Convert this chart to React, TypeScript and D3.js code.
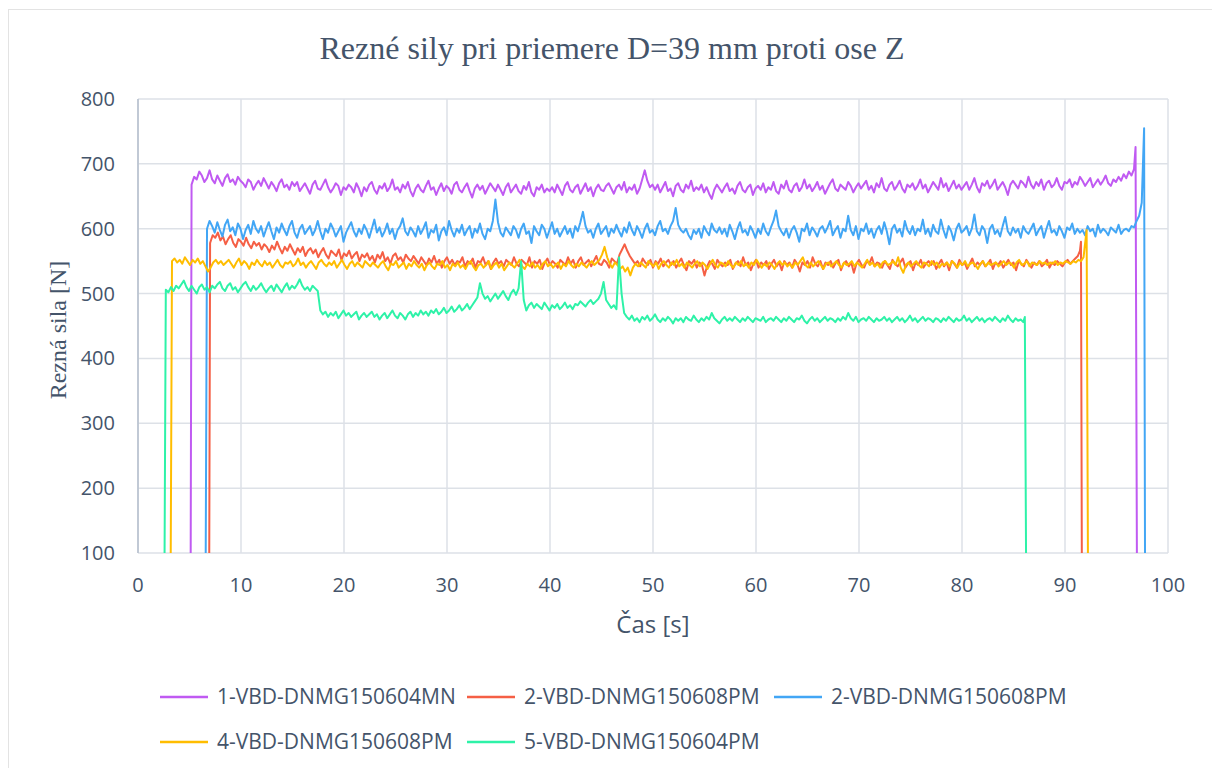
import React from "react";
import * as d3 from "d3";

// Sampling step of the force series, seconds
const STEP = 0.25;

const xTicks = [0, 10, 20, 30, 40, 50, 60, 70, 80, 90, 100];
const yTicks = [100, 200, 300, 400, 500, 600, 700, 800];

// 1-VBD-DNMG150604MN, sampled from t = 5.2 s (one row = 5 s)
const purpleValues = [
  668, 680, 676, 688, 682, 672, 678, 690, 676, 670, 682, 674, 666, 678, 684, 672, 676, 668, 680, 674,
  670, 664, 676, 672, 660, 668, 674, 666, 678, 670, 662, 672, 666, 658, 670, 676, 664, 668, 660, 672,
  666, 672, 658, 664, 670, 662, 654, 668, 674, 662, 660, 668, 676, 664, 656, 662, 670, 666, 652, 664,
  660, 668, 664, 656, 670, 662, 650, 664, 658, 668, 672, 660, 654, 666, 662, 670, 658, 664, 676, 660,
  664, 656, 668, 662, 672, 658, 650, 662, 668, 660, 656, 666, 674, 660, 664, 652, 662, 670, 658, 666,
  662, 654, 668, 672, 660, 656, 664, 670, 658, 648, 662, 668, 660, 666, 654, 662, 670, 664, 658, 668,
  660, 652, 664, 670, 656, 662, 668, 658, 654, 666, 660, 672, 656, 650, 664, 660, 668, 656, 662, 658,
  664, 656, 668, 660, 652, 666, 672, 660, 656, 664, 668, 654, 662, 670, 658, 664, 650, 662, 668, 660,
  658, 666, 670, 662, 654, 664, 668, 660, 672, 656, 664, 660, 668, 654, 662, 676, 690, 674, 664, 668,
  660, 668, 656, 664, 672, 658, 662, 650, 666, 670, 660, 656, 668, 662, 674, 658, 664, 660, 668, 656,
  664, 654, 646, 660, 668, 662, 656, 664, 670, 658, 662, 654, 666, 672, 660, 656, 664, 668, 652, 662,
  666, 660, 670, 656, 664, 660, 672, 658, 654, 668, 662, 674, 660, 656, 666, 670, 658, 664, 676, 662,
  668, 658, 664, 672, 660, 666, 654, 662, 670, 676, 662, 658, 668, 664, 660, 672, 666, 656, 664, 670,
  662, 668, 674, 660, 666, 656, 670, 664, 678, 662, 658, 668, 672, 660, 666, 674, 662, 656, 668, 664,
  670, 660, 666, 676, 662, 668, 656, 664, 672, 666, 660, 678, 664, 670, 658, 666, 674, 662, 668, 660,
  666, 672, 660, 668, 678, 664, 656, 670, 666, 674, 662, 668, 676, 660, 666, 672, 664, 652, 668, 674,
  668, 662, 674, 670, 664, 680, 668, 662, 672, 666, 676, 660, 670, 674, 664, 668, 678, 666, 660, 672,
  670, 676, 664, 672, 668, 680, 674, 666, 672, 678, 664, 670, 676, 668, 674, 682, 670, 666, 676, 672,
  680, 674, 684, 678, 688, 682, 692,
];

// 2-VBD-DNMG150608PM (red), sampled from t = 7.0 s
const redValues = [
  578, 590, 586, 594, 582, 588, 576, 584, 590, 578, 572, 584, 580, 574, 586, 576, 570, 580, 574, 578,
  568, 576, 572, 564, 574, 568, 580, 570, 562, 572, 566, 576, 568, 560, 570, 564, 572, 558, 566, 570,
  562, 568, 556, 564, 570, 560, 554, 566, 562, 558, 568, 552, 562, 558, 566, 554, 560, 564, 550, 560,
  556, 562, 552, 558, 548, 560, 554, 564, 550, 556, 546, 558, 562, 552, 556, 548, 560, 554, 550, 558,
  552, 546, 556, 550, 544, 554, 548, 558, 546, 552, 540, 550, 556, 546, 552, 544, 550, 548, 556, 542,
  550, 546, 554, 540, 550, 548, 556, 544, 550, 538, 548, 554, 546, 550, 542, 552, 548, 544, 556, 546,
  542, 552, 548, 544, 556, 540, 550, 546, 552, 538, 548, 554, 544, 550, 546, 540, 552, 548, 544, 556,
  546, 552, 540, 550, 556, 544, 548, 552, 542, 550, 558, 546, 544, 552, 548, 540, 554, 550, 546, 560,
  568, 576, 566, 558, 552, 546, 550, 542, 554, 548, 544, 552, 540, 550, 546, 554, 542, 548, 552, 544,
  550, 540, 548, 554, 544, 536, 550, 546, 552, 540, 548, 544, 528, 542, 550, 546, 538, 552, 546, 542,
  548, 544, 552, 538, 546, 550, 542, 556, 544, 548, 536, 546, 552, 540, 548, 544, 550, 538, 546, 552,
  542, 548, 536, 550, 544, 548, 540, 552, 546, 534, 548, 544, 550, 540, 556, 546, 542, 550, 538, 548,
  544, 550, 540, 548, 552, 536, 546, 550, 542, 548, 532, 546, 552, 544, 540, 550, 546, 556, 542, 548,
  546, 540, 550, 544, 538, 552, 546, 542, 548, 554, 540, 546, 550, 536, 548, 544, 552, 540, 546, 550,
  544, 550, 538, 546, 552, 542, 548, 536, 550, 546, 540, 552, 544, 548, 538, 546, 554, 542, 548, 544,
  550, 542, 546, 552, 538, 548, 544, 550, 540, 546, 552, 544, 548, 536, 550, 546, 542, 552, 546, 540,
  548, 544, 550, 542, 546, 552, 540, 548, 544, 550, 546, 542, 548, 552, 546, 550, 554, 558,
];

// 2-VBD-DNMG150608PM (blue), sampled from t = 6.7 s
const blueValues = [
  600, 612, 604, 594, 610, 598, 588, 606, 614, 596, 602, 590, 608, 600, 584, 598, 606, 592, 612, 600,
  594, 604, 588, 600, 610, 596, 584, 602, 594, 608, 598, 590, 604, 612, 594, 586, 600, 606, 592, 598,
  604, 590, 598, 612, 596, 584, 600, 594, 608, 600, 588, 596, 604, 580, 594, 602, 610, 596, 588, 600,
  592, 606, 598, 586, 600, 614, 594, 602, 588, 596, 608, 592, 600, 584, 598, 604, 616, 596, 590, 602,
  596, 588, 604, 592, 600, 610, 586, 598, 594, 606, 582, 596, 602, 590, 612, 598, 588, 600, 594, 606,
  590, 598, 604, 586, 600, 594, 608, 592, 584, 600, 596, 612, 645, 610, 594, 588, 602, 596, 590, 604,
  598, 586, 600, 608, 592, 596, 578, 604, 596, 590, 606, 600, 586, 598, 610, 592, 600, 588, 596, 604,
  592, 600, 586, 604, 596, 610, 626, 604, 594, 598, 586, 600, 608, 592, 598, 604, 588, 600, 594, 606,
  596, 588, 602, 594, 610, 598, 590, 604, 596, 586, 600, 608, 594, 598, 590, 604, 612, 596, 600, 592,
  604, 612, 632, 606, 598, 594, 600, 590, 584, 598, 592, 600, 586, 604, 596, 590, 608, 598, 594, 602,
  592, 600, 588, 606, 596, 584, 600, 610, 594, 598, 590, 604, 596, 586, 600, 592, 608, 596, 590, 602,
  612, 628, 604, 596, 590, 600, 586, 598, 604, 594, 580, 600, 596, 608, 590, 602, 596, 588, 600, 604,
  594, 602, 612, 590, 598, 604, 586, 600, 596, 620, 598, 590, 604, 584, 600, 596, 608, 592, 600, 586,
  598, 604, 592, 610, 596, 576, 600, 606, 594, 600, 588, 612, 598, 592, 604, 590, 600, 596, 614, 592,
  600, 588, 606, 596, 592, 614, 598, 586, 604, 596, 582, 600, 608, 594, 598, 604, 590, 600, 622, 596,
  590, 604, 598, 578, 600, 606, 592, 598, 588, 604, 618, 596, 590, 602, 594, 600, 586, 604, 596, 592,
  600, 608, 590, 598, 604, 586, 600, 612, 594, 598, 590, 604, 596, 586, 602, 598, 608, 592, 600, 594,
  598, 590, 604, 596, 600, 588, 606, 594, 600, 596, 590, 602, 598, 594, 606, 592, 598, 600, 596, 604,
  602, 612, 620,
];

// 4-VBD-DNMG150608PM, sampled from t = 3.3 s
const yellowValues = [
  550, 554, 548, 552, 546, 556, 550, 544, 552, 548, 554, 546, 550, 542, 534, 540, 548, 552, 546, 550,
  544, 548, 552, 546, 540, 548, 554, 544, 550, 546, 538, 548, 544, 552, 546, 542, 550, 544, 548, 540,
  546, 552, 544, 540, 548, 546, 550, 542, 546, 554, 544, 548, 540, 546, 550, 544, 538, 548, 552, 546,
  542, 548, 544, 550, 540, 546, 552, 544, 538, 546, 550, 542, 548, 544, 540, 550, 546, 542, 548, 544,
  540, 546, 550, 542, 536, 546, 544, 550, 540, 544, 548, 538, 546, 542, 550, 544, 540, 546, 536, 544,
  548, 542, 538, 546, 544, 550, 540, 544, 536, 546, 542, 548, 540, 544, 538, 546, 550, 542, 536, 544,
  546, 540, 544, 550, 538, 544, 548, 540, 546, 536, 542, 548, 544, 540, 546, 552, 542, 538, 546, 542,
  548, 540, 544, 538, 546, 550, 542, 546, 540, 544, 548, 538, 546, 542, 550, 544, 540, 546, 542, 548,
  544, 540, 546, 550, 544, 548, 552, 560, 572, 556, 546, 540, 548, 544, 538, 542, 534, 540, 528, 540,
  546, 542, 548, 544, 540, 550, 546, 542, 548, 538, 546, 550, 544, 540, 548, 544, 552, 542, 546, 540,
  548, 544, 540, 546, 550, 542, 548, 544, 538, 546, 552, 544, 540, 548, 546, 542, 550, 544, 540, 548,
  544, 550, 542, 546, 540, 548, 544, 552, 546, 540, 546, 542, 548, 544, 538, 546, 550, 544, 548, 542,
  546, 540, 548, 544, 550, 556, 544, 540, 548, 542, 546, 550, 544, 538, 546, 548, 542, 546, 550, 544,
  540, 548, 544, 546, 550, 542, 548, 544, 540, 546, 552, 544, 548, 542, 546, 540, 548, 550, 544, 546,
  550, 544, 556, 540, 532, 544, 548, 542, 546, 550, 544, 540, 548, 546, 542, 550, 544, 548, 540, 546,
  544, 548, 542, 550, 546, 540, 548, 544, 550, 542, 546, 548, 544, 538, 546, 550, 542, 548, 544, 546,
  548, 542, 546, 550, 544, 548, 546, 540, 548, 552, 544, 546, 550, 542, 548, 546, 544, 550, 546, 548,
  544, 548, 546, 550, 544, 548, 546, 550, 548, 546, 550, 548, 552, 550, 556,
];

// 5-VBD-DNMG150604PM, sampled from t = 2.7 s
const greenValues = [
  506, 502, 510, 504, 512, 508, 514, 520, 510, 504, 512, 506, 500, 510, 514, 506, 510, 502, 512, 508,
  514, 518, 508, 504, 512, 516, 506, 510, 502, 508, 514, 518, 510, 504, 512, 506, 510, 516, 508, 502,
  508, 512, 504, 514, 508, 502, 510, 516, 506, 512, 508, 514, 522, 512, 506, 510, 504, 512, 508, 504,
  474, 468, 472, 464, 470, 466, 472, 462, 468, 474, 466, 470, 464, 468, 472, 460, 466, 470, 464, 468,
  472, 464, 468, 460, 466, 470, 462, 468, 474, 466, 462, 470, 466, 460, 468, 472, 464, 470, 466, 474,
  468, 472, 466, 474, 470, 476, 468, 472, 478, 470, 474, 480, 472, 476, 482, 474, 478, 484, 476, 482,
  488, 494, 516, 500, 492, 496, 488, 494, 500, 492, 498, 504, 496, 490, 500, 506, 498, 508, 550, 490,
  474, 482, 486, 478, 484, 480, 476, 486, 480, 474, 482, 478, 484, 476, 480, 486, 478, 482, 476, 484,
  482, 488, 484, 480, 486, 490, 484, 488, 492, 500, 518, 490, 484, 478, 482, 476, 556, 500, 470, 464,
  460, 466, 458, 462, 456, 464, 460, 466, 458, 462, 468, 460, 456, 462, 458, 464, 460, 454, 462, 458,
  462, 456, 464, 460, 458, 466, 460, 456, 462, 458, 464, 460, 470, 462, 458, 454, 460, 464, 458, 462,
  458, 464, 460, 456, 462, 458, 464, 460, 456, 462, 460, 458, 464, 456, 460, 462, 458, 464, 460, 456,
  462, 458, 464, 460, 456, 462, 460, 466, 458, 454, 460, 464, 458, 462, 456, 460, 464, 458, 462, 460,
  456, 462, 458, 464, 460, 470, 462, 458, 464, 456, 460, 462, 458, 464, 460, 456, 462, 458, 460, 464,
  458, 462, 456, 460, 464, 458, 462, 456, 460, 466, 458, 462, 456, 460, 464, 458, 462, 460, 456, 462,
  460, 456, 462, 458, 464, 460, 456, 462, 458, 460, 466, 458, 462, 456, 460, 464, 458, 462, 456, 460,
  462, 458, 464, 460, 456, 462, 458, 466, 460, 456, 462, 458, 460, 456,
];

type Series = {
  name: string;
  color: string;
  riseT: number; // moment the tool enters the cut
  t0: number; // first regular sample
  values: number[];
  tail: [number, number][]; // last readings before the tool leaves the cut
  fallT: number;
};

const series: Series[] = [
  { name: "1-VBD-DNMG150604MN", color: "#c05af2", riseT: 5.1, t0: 5.2, values: purpleValues, tail: [[96.85, 726]], fallT: 97.0 },
  { name: "2-VBD-DNMG150608PM", color: "#f55f45", riseT: 6.9, t0: 7.0, values: redValues, tail: [[91.45, 566], [91.55, 580]], fallT: 91.65 },
  { name: "2-VBD-DNMG150608PM", color: "#42a6f5", riseT: 6.55, t0: 6.7, values: blueValues, tail: [[97.45, 640], [97.68, 755]], fallT: 97.78 },
  { name: "4-VBD-DNMG150608PM", color: "#ffbd00", riseT: 3.15, t0: 3.3, values: yellowValues, tail: [[92.1, 598]], fallT: 92.25 },
  { name: "5-VBD-DNMG150604PM", color: "#2ef2a8", riseT: 2.55, t0: 2.7, values: greenValues, tail: [[86.1, 464]], fallT: 86.25 },
];

function points(s: Series): [number, number][] {
  const pts: [number, number][] = [[s.riseT, 0]];
  s.values.forEach((v, i) => pts.push([s.t0 + i * STEP, v]));
  s.tail.forEach((p) => pts.push(p));
  pts.push([s.fallT, 0]);
  return pts;
}

const TEXT = "#44546a";
const GRID = "#dde1e7";
const SANS = "'Open Sans', 'Noto Sans', sans-serif";
const SERIF = "'Liberation Serif', 'Times New Roman', serif";

export default function App() {
  const left = 138, right = 1168, top = 99, bottom = 553;
  const x = d3.scaleLinear().domain([0, 100]).range([left, right]);
  const y = d3.scaleLinear().domain([100, 800]).range([bottom, top]);
  const line = d3
    .line<[number, number]>()
    .x((d) => x(d[0]))
    .y((d) => y(d[1]));

  const legendRows = [
    [0, 1, 2],
    [3, 4],
  ];

  return (
    <svg
      width={1212}
      height={768}
      style={{ position: "absolute", left: 0, top: 0, background: "#fff" }}
    >
      <rect x={8.5} y={9.5} width={1220} height={780} fill="#fff" stroke="#e3e3e3" />
      <defs>
        <clipPath id="plot">
          <rect x={left} y={top - 2} width={right - left} height={bottom - top + 2} />
        </clipPath>
      </defs>

      <text x={612} y={59} textAnchor="middle" fontFamily={SERIF} fontSize={32} fill={TEXT}>
        Rezné sily pri priemere D=39 mm proti ose Z
      </text>

      {yTicks.map((t) => (
        <line key={"h" + t} x1={left} x2={right} y1={y(t)} y2={y(t)} stroke={GRID} strokeWidth={1.5} />
      ))}
      {xTicks.map((t) => (
        <line key={"v" + t} x1={x(t)} x2={x(t)} y1={top} y2={bottom} stroke={GRID} strokeWidth={1.5} />
      ))}
      <line x1={left} x2={left} y1={top} y2={bottom} stroke="#b4bfcc" strokeWidth={1.5} />

      {yTicks.map((t) => (
        <text key={"yl" + t} x={115} y={y(t)} dy="0.35em" textAnchor="end" fontFamily={SANS} fontSize={20} fill={TEXT}>
          {t}
        </text>
      ))}
      {xTicks.map((t) => (
        <text key={"xl" + t} x={x(t)} y={585} dy="0.35em" textAnchor="middle" fontFamily={SANS} fontSize={20} fill={TEXT}>
          {t}
        </text>
      ))}

      <text
        transform="translate(58, 330) rotate(-90)"
        textAnchor="middle"
        dy="0.35em"
        fontFamily={SERIF}
        fontSize={24}
        fill={TEXT}
      >
        Rezná sila [N]
      </text>
      <text x={653} y={625} dy="0.35em" textAnchor="middle" fontFamily={SANS} fontSize={24} fill={TEXT}>
        Čas [s]
      </text>

      <g clipPath="url(#plot)">
        {series.map((s, i) => (
          <path
            key={i}
            d={line(points(s)) ?? ""}
            fill="none"
            stroke={s.color}
            strokeWidth={2}
            strokeLinejoin="round"
          />
        ))}
      </g>

      {legendRows.map((row, r) =>
        row.map((si, c) => {
          const lx = 160 + c * 307;
          const ly = 697 + r * 45;
          const s = series[si];
          return (
            <g key={`lg${r}-${c}`}>
              <line x1={lx} x2={lx + 48} y1={ly} y2={ly} stroke={s.color} strokeWidth={2.5} />
              <text x={lx + 57} y={ly} dy="0.35em" fontFamily={SANS} fontSize={21} fill={TEXT}>
                {s.name}
              </text>
            </g>
          );
        })
      )}
    </svg>
  );
}
